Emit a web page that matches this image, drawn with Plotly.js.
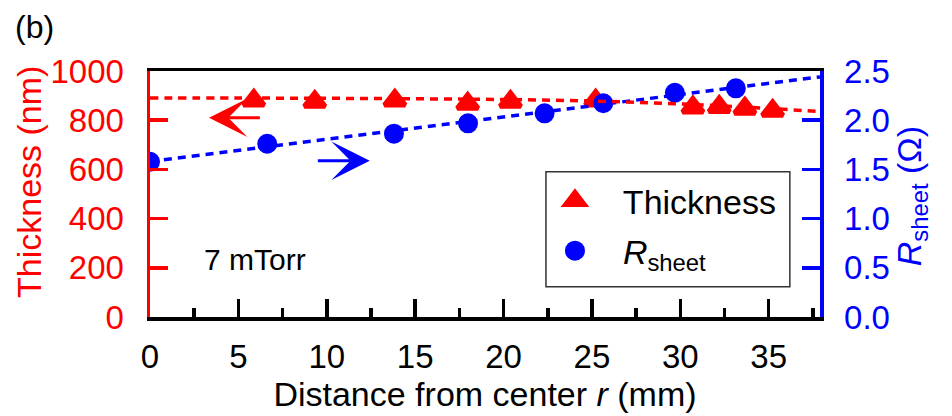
<!DOCTYPE html>
<html>
<head>
<meta charset="utf-8">
<script src="https://cdn.plot.ly/plotly-3.0.1.min.js"></script>
<style>
  html, body { margin: 0; padding: 0; background: #ffffff; }
  #chart { width: 952px; height: 416px; }
</style>
</head>
<body>
<div id="chart"></div>
<script>
// Thickness measurements (nm) vs distance r (mm)
const thickR = [5.87, 9.32, 13.85, 17.97, 20.39, 25.21, 30.71, 32.20, 33.65, 35.22];
const thickVal = [880, 875, 880, 867, 875, 880, 852, 854, 847, 838];

// Sheet resistance (Ohm) vs distance r (mm)
const rsR = [0, 6.63, 13.80, 17.99, 22.32, 25.64, 29.69, 33.14];
const rsVal = [1.578, 1.761, 1.863, 1.968, 2.070, 2.172, 2.279, 2.324];

// Fit curves
const thickFitR = [0, 5, 10, 15, 20, 25, 30, 35, 37.9];
const thickFitVal = [890, 890, 889, 887, 884, 878, 866, 848, 835];
const rsFitR = [0, 37.9];
const rsFitVal = [1.58, 2.44];

// Axis ticks
const xTicks = [0, 5, 10, 15, 20, 25, 30, 35];
const yTicks = [0, 200, 400, 600, 800, 1000];
const y2Ticks = [0, 0.5, 1.0, 1.5, 2.0, 2.5];
const y2TickText = ['0.0', '0.5', '1.0', '1.5', '2.0', '2.5'];

const RED = '#ff0000';
const BLUE = '#0000ff';
const FONT = 'Liberation Sans, Arial, sans-serif';
const NB = '\u00a0\u00a0';

const traces = [
  {
    x: rsFitR, y: rsFitVal, yaxis: 'y2', mode: 'lines', showlegend: false, hoverinfo: 'skip',
    line: { color: BLUE, width: 3.5, dash: '8px,6px' }
  },
  {
    x: thickR, y: thickVal, yaxis: 'y', mode: 'markers', name: NB + 'Thickness',
    legendgroup: 'a',
    marker: { symbol: 'triangle-up', size: 18, color: RED, line: { color: RED, width: 5 } }
  },
  {
    x: rsR, y: rsVal, yaxis: 'y2', mode: 'markers', name: NB + '<i>R</i><sub>sheet</sub>',
    legendgroup: 'b',
    marker: { symbol: 'circle', size: 16, color: BLUE, line: { color: BLUE, width: 4 } }
  },
  {
    x: thickFitR, y: thickFitVal, yaxis: 'y3', mode: 'lines', showlegend: false, hoverinfo: 'skip',
    line: { color: RED, width: 3.5, dash: '8px,6px', shape: 'spline' }
  }
];

const layout = {
  width: 952, height: 416,
  margin: { l: 150, r: 132, t: 71, b: 99 },
  paper_bgcolor: '#ffffff', plot_bgcolor: '#ffffff',
  font: { family: FONT, size: 33, color: '#000000' },
  showlegend: true,
  legend: {
    x: 0.591, y: 0.59, xanchor: 'left', yanchor: 'top',
    bgcolor: 'rgba(0,0,0,0)', borderwidth: 0,
    font: { family: FONT, size: 34, color: '#000000' },
    tracegroupgap: 3, itemwidth: 48
  },
  shapes: [
    {
      type: 'rect', xref: 'paper', yref: 'paper',
      x0: 0.591, x1: 0.955, y0: 0.1228, y1: 0.5907,
      line: { color: '#333333', width: 1.5 }, fillcolor: 'rgba(255,255,255,0)', layer: 'above'
    }
  ],
  xaxis: {
    range: [0, 37.9], tickvals: xTicks, ticktext: xTicks.map(String),
    showline: true, linecolor: '#000000', linewidth: 3.5, mirror: true,
    ticks: 'inside', ticklen: 18, tickwidth: 3.5, tickcolor: '#000000',
    minor: { dtick: 2.5, tick0: 0, ticks: 'inside', ticklen: 9, tickwidth: 3.5, tickcolor: '#000000' },
    showgrid: false, zeroline: false,
    tickfont: { family: FONT, size: 33, color: '#000000' },
    ticklabelstandoff: 8,
    title: { text: 'Distance from center <i>r</i> (mm)', font: { family: FONT, size: 34, color: '#000000' }, standoff: 6 }
  },
  yaxis: {
    range: [0, 1000], tickvals: yTicks, ticktext: yTicks.map(String),
    showline: true, linecolor: RED, linewidth: 3.5,
    ticks: 'inside', ticklen: 18, tickwidth: 3.5, tickcolor: RED,
    showgrid: false, zeroline: false,
    tickfont: { family: FONT, size: 33, color: RED },
    ticklabelstandoff: 16
  },
  yaxis2: {
    range: [0, 2.5], tickvals: y2Ticks, ticktext: y2TickText,
    overlaying: 'y', side: 'right', anchor: 'x',
    showline: true, linecolor: BLUE, linewidth: 3.5,
    ticks: 'inside', ticklen: 18, tickwidth: 3.5, tickcolor: BLUE,
    showgrid: false, zeroline: false,
    tickfont: { family: FONT, size: 33, color: BLUE },
    ticklabelstandoff: 14
  },
  yaxis3: {
    overlaying: 'y', matches: 'y', range: [0, 1000], visible: false,
    showgrid: false, zeroline: false
  },
  annotations: [
    {
      xref: 'paper', yref: 'paper', x: -0.1806, y: 0.549, xanchor: 'center', yanchor: 'middle',
      text: 'Thickness (nm)', textangle: -90, showarrow: false,
      font: { family: FONT, size: 34, color: RED }
    },
    {
      xref: 'paper', yref: 'paper', x: 1.137, y: 0.49, xanchor: 'center', yanchor: 'middle',
      text: '<i>R</i><sub>sheet</sub> (Ω)', textangle: -90, showarrow: false,
      font: { family: FONT, size: 34, color: BLUE }
    },
    {
      xref: 'paper', yref: 'paper', x: -0.205, y: 1.179, xanchor: 'left', yanchor: 'middle',
      text: '(b)', showarrow: false,
      font: { family: FONT, size: 32, color: '#000000' }
    },
    {
      xref: 'paper', yref: 'paper', x: 0.077, y: 0.235, xanchor: 'left', yanchor: 'middle',
      text: '7 mTorr', showarrow: false,
      font: { family: FONT, size: 30, color: '#000000' }
    },
    {
      xref: 'x', yref: 'y', x: 3.34, y: 810, axref: 'x', ayref: 'y', ax: 6.30, ay: 810,
      text: '', showarrow: true, arrowhead: 3, arrowsize: 2, arrowwidth: 3.2, arrowcolor: RED
    },
    {
      xref: 'x', yref: 'y2', x: 12.43, y: 1.588, axref: 'x', ayref: 'y2', ax: 9.41, ay: 1.588,
      text: '', showarrow: true, arrowhead: 3, arrowsize: 2, arrowwidth: 3.2, arrowcolor: BLUE
    }
  ]
};

Plotly.newPlot('chart', traces, layout, { displayModeBar: false, staticPlot: true });
</script>
</body>
</html>
